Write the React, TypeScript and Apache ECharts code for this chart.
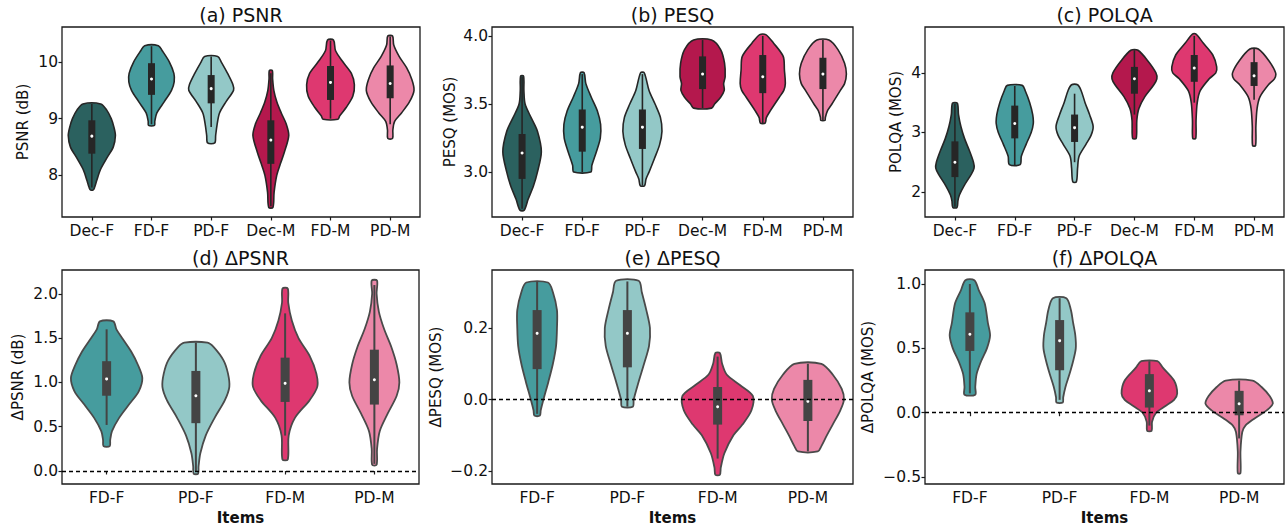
import React, { useEffect, useRef } from "react";
import * as echarts from "echarts";

// ---------- categories ----------
const topCats = ["Dec-F", "FD-F", "PD-F", "Dec-M", "FD-M", "PD-M"];
const bottomCats = ["FD-F", "PD-F", "FD-M", "PD-M"];

// ---------- tick values ----------
const psnrTicks = [8, 9, 10];
const pesqTicks = [3.0, 3.5, 4.0];
const polqaTicks = [2, 3, 4];
const dPsnrTicks = [0, 0.5, 1.0, 1.5, 2.0];
const dPesqTicks = [-0.2, 0, 0.2];
const dPolqaTicks = [-0.5, 0, 0.5, 1.0];

// ---------- violin profiles: [value, relative width] from top to bottom ----------
const psnrViolins = [
  [[9.26, 0.3], [9.15, 0.5], [9.0, 0.65], [8.85, 0.74], [8.7, 0.79], [8.5, 0.72], [8.3, 0.5], [8.1, 0.29], [7.9, 0.16], [7.78, 0.09], [7.74, 0.05]],
  [[10.29, 0.23], [10.2, 0.36], [10.0, 0.6], [9.8, 0.75], [9.65, 0.76], [9.5, 0.67], [9.3, 0.43], [9.1, 0.18], [8.95, 0.11], [8.88, 0.1]],
  [[10.1, 0.22], [10.0, 0.34], [9.8, 0.55], [9.6, 0.73], [9.5, 0.75], [9.3, 0.5], [9.1, 0.28], [8.9, 0.2], [8.7, 0.15], [8.57, 0.12]],
  [[9.85, 0.05], [9.7, 0.06], [9.5, 0.1], [9.3, 0.2], [9.1, 0.35], [8.9, 0.52], [8.7, 0.6], [8.4, 0.45], [8.2, 0.32], [8.0, 0.2], [7.7, 0.11], [7.43, 0.07]],
  [[10.39, 0.1], [10.2, 0.17], [10.0, 0.42], [9.8, 0.7], [9.6, 0.8], [9.4, 0.75], [9.2, 0.53], [9.05, 0.31], [8.99, 0.25]],
  [[10.46, 0.08], [10.3, 0.12], [10.1, 0.3], [9.9, 0.55], [9.7, 0.72], [9.5, 0.8], [9.3, 0.65], [9.1, 0.38], [8.95, 0.15], [8.8, 0.09], [8.65, 0.08]],
];
const pesqViolins = [
  [[3.705, 0.05], [3.6, 0.06], [3.5, 0.1], [3.4, 0.3], [3.3, 0.51], [3.15, 0.64], [3.0, 0.51], [2.9, 0.38], [2.8, 0.2], [2.72, 0.07]],
  [[3.73, 0.06], [3.65, 0.12], [3.55, 0.3], [3.45, 0.5], [3.35, 0.61], [3.25, 0.6], [3.15, 0.47], [3.05, 0.32], [3.0, 0.28]],
  [[3.73, 0.06], [3.6, 0.22], [3.5, 0.42], [3.4, 0.6], [3.3, 0.65], [3.2, 0.57], [3.1, 0.4], [3.0, 0.22], [2.95, 0.12], [2.9, 0.07]],
  [[3.97, 0.3], [3.9, 0.6], [3.8, 0.73], [3.7, 0.75], [3.65, 0.7], [3.6, 0.72], [3.55, 0.6], [3.5, 0.4], [3.47, 0.3]],
  [[4.01, 0.1], [3.95, 0.35], [3.85, 0.68], [3.75, 0.72], [3.65, 0.75], [3.6, 0.7], [3.55, 0.55], [3.45, 0.25], [3.4, 0.12], [3.36, 0.08]],
  [[3.97, 0.2], [3.9, 0.5], [3.8, 0.72], [3.72, 0.78], [3.65, 0.72], [3.6, 0.58], [3.5, 0.3], [3.45, 0.15], [3.4, 0.08], [3.38, 0.07]],
];
const polqaViolins = [
  [[3.49, 0.08], [3.3, 0.12], [3.1, 0.2], [2.9, 0.32], [2.7, 0.48], [2.5, 0.62], [2.4, 0.64], [2.3, 0.55], [2.1, 0.3], [1.95, 0.15], [1.85, 0.1], [1.74, 0.07]],
  [[3.79, 0.25], [3.7, 0.35], [3.5, 0.5], [3.3, 0.6], [3.15, 0.62], [3.0, 0.55], [2.8, 0.38], [2.6, 0.22], [2.46, 0.18]],
  [[3.8, 0.1], [3.7, 0.22], [3.5, 0.35], [3.3, 0.5], [3.1, 0.62], [2.95, 0.55], [2.8, 0.38], [2.6, 0.15], [2.4, 0.1], [2.17, 0.06]],
  [[4.38, 0.12], [4.2, 0.45], [4.0, 0.72], [3.9, 0.75], [3.8, 0.65], [3.6, 0.35], [3.4, 0.15], [3.2, 0.08], [2.9, 0.06]],
  [[4.65, 0.06], [4.5, 0.3], [4.3, 0.62], [4.1, 0.75], [4.0, 0.72], [3.9, 0.5], [3.7, 0.2], [3.5, 0.1], [3.2, 0.06], [2.9, 0.05]],
  [[4.4, 0.14], [4.2, 0.5], [4.0, 0.72], [3.9, 0.68], [3.8, 0.48], [3.6, 0.2], [3.4, 0.1], [3.1, 0.06], [2.78, 0.05]],
];
const dPsnrViolins = [
  [[1.69, 0.15], [1.6, 0.22], [1.5, 0.35], [1.35, 0.55], [1.2, 0.7], [1.05, 0.8], [0.9, 0.72], [0.75, 0.5], [0.6, 0.28], [0.45, 0.12], [0.35, 0.08], [0.28, 0.07]],
  [[1.45, 0.26], [1.4, 0.4], [1.25, 0.62], [1.1, 0.72], [0.95, 0.75], [0.8, 0.65], [0.6, 0.42], [0.4, 0.22], [0.2, 0.1], [0.05, 0.06], [-0.03, 0.05]],
  [[2.06, 0.06], [1.9, 0.07], [1.7, 0.15], [1.5, 0.3], [1.3, 0.55], [1.1, 0.7], [0.95, 0.72], [0.8, 0.55], [0.6, 0.22], [0.4, 0.08], [0.13, 0.06]],
  [[2.15, 0.06], [2.0, 0.05], [1.8, 0.1], [1.6, 0.22], [1.4, 0.38], [1.2, 0.5], [1.0, 0.56], [0.85, 0.5], [0.65, 0.3], [0.45, 0.12], [0.25, 0.06], [0.07, 0.05]],
];
const dPesqViolins = [
  [[0.327, 0.24], [0.3, 0.35], [0.25, 0.44], [0.2, 0.44], [0.15, 0.42], [0.1, 0.35], [0.05, 0.25], [0.0, 0.14], [-0.03, 0.08], [-0.045, 0.06]],
  [[0.332, 0.25], [0.3, 0.32], [0.25, 0.42], [0.2, 0.5], [0.15, 0.48], [0.1, 0.37], [0.05, 0.25], [0.0, 0.14], [-0.02, 0.12]],
  [[0.13, 0.05], [0.1, 0.1], [0.07, 0.2], [0.04, 0.5], [0.01, 0.78], [-0.03, 0.75], [-0.07, 0.55], [-0.1, 0.35], [-0.15, 0.15], [-0.19, 0.07], [-0.21, 0.05]],
  [[0.1, 0.3], [0.07, 0.55], [0.03, 0.75], [0.0, 0.8], [-0.03, 0.72], [-0.07, 0.55], [-0.1, 0.42], [-0.13, 0.3], [-0.145, 0.22]],
];
const dPolqaViolins = [
  [[1.03, 0.1], [0.95, 0.2], [0.85, 0.33], [0.7, 0.4], [0.6, 0.45], [0.5, 0.38], [0.4, 0.25], [0.3, 0.15], [0.2, 0.12], [0.14, 0.12]],
  [[0.89, 0.15], [0.8, 0.25], [0.7, 0.3], [0.6, 0.35], [0.5, 0.36], [0.4, 0.3], [0.3, 0.22], [0.2, 0.13], [0.12, 0.08], [0.08, 0.07]],
  [[0.4, 0.18], [0.35, 0.3], [0.25, 0.55], [0.15, 0.62], [0.1, 0.55], [0.05, 0.35], [0.0, 0.15], [-0.07, 0.06], [-0.14, 0.05]],
  [[0.25, 0.3], [0.2, 0.5], [0.13, 0.68], [0.07, 0.75], [0.02, 0.62], [-0.05, 0.32], [-0.1, 0.14], [-0.15, 0.07], [-0.3, 0.03], [-0.47, 0.03]],
];

// ---------- inner boxes: [whiskerLow, q1, median, q3, whiskerHigh] ----------
const psnrBoxes = [
  [7.78, 8.38, 8.69, 8.97, 9.26], [8.9, 9.42, 9.7, 9.98, 10.28], [8.85, 9.27, 9.53, 9.77, 10.1],
  [7.45, 8.2, 8.62, 8.97, 9.8], [9.0, 9.33, 9.64, 9.93, 10.38], [8.9, 9.36, 9.62, 9.94, 10.45],
];
const pesqBoxes = [
  [2.73, 2.95, 3.14, 3.28, 3.7], [3.0, 3.15, 3.33, 3.46, 3.72], [2.9, 3.17, 3.33, 3.46, 3.72],
  [3.47, 3.61, 3.72, 3.85, 3.97], [3.36, 3.58, 3.7, 3.86, 4.0], [3.38, 3.61, 3.72, 3.84, 3.97],
];
const polqaBoxes = [
  [1.75, 2.25, 2.5, 2.85, 3.48], [2.45, 2.9, 3.15, 3.45, 3.78], [2.5, 2.84, 3.08, 3.3, 3.65],
  [3.3, 3.65, 3.9, 4.1, 4.38], [3.5, 3.85, 4.08, 4.3, 4.62], [3.55, 3.78, 3.95, 4.18, 4.4],
];
const dPsnrBoxes = [
  [0.52, 0.85, 1.04, 1.24, 1.6], [0.0, 0.54, 0.85, 1.13, 1.45], [0.4, 0.78, 0.99, 1.28, 1.78], [0.08, 0.75, 1.03, 1.37, 2.1],
];
const dPesqBoxes = [
  [-0.04, 0.085, 0.185, 0.25, 0.33], [-0.02, 0.09, 0.185, 0.25, 0.33], [-0.165, -0.07, -0.02, 0.035, 0.12], [-0.145, -0.06, -0.005, 0.055, 0.1],
];
const dPolqaBoxes = [
  [0.15, 0.48, 0.61, 0.78, 1.0], [0.1, 0.33, 0.56, 0.72, 0.89], [-0.1, 0.04, 0.17, 0.3, 0.4], [-0.2, -0.02, 0.07, 0.17, 0.25],
];

// ---------- styles ----------
const topColors = ["#2b615f", "#469c9e", "#93c8c7", "#b4184d", "#de3870", "#ec88a9"];
const bottomColors = ["#469c9e", "#93c8c7", "#de3870", "#ec88a9"];
const FONT = "DejaVu Sans";
const TXT = "#111";

const fmt = (dec: number) => (v: number) => (v < 0 ? "\u2212" : "") + Math.abs(v).toFixed(dec);

type Panel = {
  grid: any; cats: string[]; colors: string[]; profiles: number[][][]; boxes: number[][];
  ticks: number[]; min: number; max: number; dec: number; yName: string; nameGap: number;
  title: string; zero: boolean; bottom: boolean;
};

const panels: Panel[] = [
  { grid: { left: 62, top: 27, width: 358, height: 190 }, cats: topCats, colors: topColors, profiles: psnrViolins, boxes: psnrBoxes, ticks: psnrTicks, min: 7.26, max: 10.62, dec: 0, yName: "PSNR (dB)", nameGap: 32, title: "(a) PSNR", zero: false, bottom: false },
  { grid: { left: 492, top: 27, width: 361, height: 190 }, cats: topCats, colors: topColors, profiles: pesqViolins, boxes: pesqBoxes, ticks: pesqTicks, min: 2.67, max: 4.066, dec: 1, yName: "PESQ (MOS)", nameGap: 35, title: "(b) PESQ", zero: false, bottom: false },
  { grid: { left: 925, top: 27, width: 359, height: 190 }, cats: topCats, colors: topColors, profiles: polqaViolins, boxes: polqaBoxes, ticks: polqaTicks, min: 1.58, max: 4.77, dec: 0, yName: "POLQA (MOS)", nameGap: 22, title: "(c) POLQA", zero: false, bottom: false },
  { grid: { left: 62, top: 270, width: 357, height: 214 }, cats: bottomCats, colors: bottomColors, profiles: dPsnrViolins, boxes: dPsnrBoxes, ticks: dPsnrTicks, min: -0.147, max: 2.27, dec: 1, yName: "\u0394PSNR (dB)", nameGap: 37, title: "(d) \u0394PSNR", zero: true, bottom: true },
  { grid: { left: 492, top: 270, width: 361, height: 214 }, cats: bottomCats, colors: bottomColors, profiles: dPesqViolins, boxes: dPesqBoxes, ticks: dPesqTicks, min: -0.236, max: 0.362, dec: 1, yName: "\u0394PESQ (MOS)", nameGap: 49, title: "(e) \u0394PESQ", zero: true, bottom: true },
  { grid: { left: 925, top: 270, width: 359, height: 214 }, cats: bottomCats, colors: bottomColors, profiles: dPolqaViolins, boxes: dPolqaBoxes, ticks: dPolqaTicks, min: -0.554, max: 1.109, dec: 1, yName: "\u0394POLQA (MOS)", nameGap: 50, title: "(f) \u0394POLQA", zero: true, bottom: true },
];

function makeRender(p: Panel) {
  const outline = p.bottom ? "#4a4a4a" : "#262626";
  const boxColor = p.bottom ? "#444444" : "#262626";
  const boxW = p.bottom ? 9 : 7;
  const whiskW = p.bottom ? 2 : 1.6;
  return (params: any, api: any) => {
    const i = params.dataIndex;
    const prof = p.profiles[i];
    const b = p.boxes[i];
    const catW = api.size([1, 0])[0];
    const cx = api.coord([i, b[2]])[0];
    const right = prof.map(([v, w]) => [cx + (w * catW) / 2, api.coord([i, v])[1]]);
    const left = prof.slice().reverse().map(([v, w]) => [cx - (w * catW) / 2, api.coord([i, v])[1]]);
    const yLow = api.coord([i, b[0]])[1];
    const yQ1 = api.coord([i, b[1]])[1];
    const yMed = api.coord([i, b[2]])[1];
    const yQ3 = api.coord([i, b[3]])[1];
    const yHigh = api.coord([i, b[4]])[1];
    return {
      type: "group",
      children: [
        {
          type: "polygon",
          shape: { points: right.concat(left), smooth: 0.3 },
          style: { fill: p.colors[i], stroke: outline, lineWidth: p.bottom ? 1.8 : 1.6 },
        },
        {
          type: "line",
          shape: { x1: cx, y1: yHigh, x2: cx, y2: yLow },
          style: { stroke: boxColor, lineWidth: whiskW },
        },
        {
          type: "rect",
          shape: { x: cx - boxW / 2, y: yQ3, width: boxW, height: yQ1 - yQ3 },
          style: { fill: boxColor },
        },
        {
          type: "circle",
          shape: { cx, cy: yMed, r: 1.5 },
          style: { fill: "#ffffff" },
        },
      ],
    };
  };
}

export default function App() {
  const ref = useRef<HTMLDivElement>(null);
  useEffect(() => {
    if (!ref.current) return;
    const chart = echarts.init(ref.current, null, { renderer: "svg" });
    const option: any = {
      animation: false,
      backgroundColor: "#ffffff",
      grid: panels.map((p) => ({ ...p.grid, show: true, borderColor: "#1a1a1a", borderWidth: 1.3, backgroundColor: "transparent", containLabel: false })),
      xAxis: panels.map((p, k) => ({
        type: "category",
        gridIndex: k,
        data: p.cats,
        boundaryGap: true,
        axisLine: { show: false },
        axisTick: { show: true, alignWithLabel: true, interval: 0, length: 3.5, lineStyle: { color: "#1a1a1a", width: 1.2 } },
        axisLabel: { fontFamily: FONT, fontSize: 15.5, color: TXT, margin: 6, interval: 0 },
        splitLine: { show: false },
        name: p.bottom ? "Items" : "",
        nameLocation: "middle",
        nameGap: 26,
        nameTextStyle: { fontFamily: FONT, fontSize: 15, fontWeight: "bold", color: TXT },
      })),
      yAxis: panels.map((p, k) => ({
        type: "value",
        gridIndex: k,
        min: p.min,
        max: p.max,
        axisLine: { show: false },
        axisTick: { show: true, length: 3.5, lineStyle: { color: "#1a1a1a", width: 1.2 }, customValues: p.ticks },
        axisLabel: { fontFamily: FONT, fontSize: 15.5, color: TXT, margin: 4, customValues: p.ticks, formatter: fmt(p.dec) },
        splitLine: { show: false },
        name: p.yName,
        nameLocation: "middle",
        nameGap: p.nameGap,
        nameTextStyle: { fontFamily: FONT, fontSize: 15, color: TXT },
      })),
      graphic: panels.map((p) => ({
        type: "text",
        x: p.grid.left + p.grid.width / 2,
        y: p.bottom ? 258 : 15,
        style: { text: p.title, font: `19px '${FONT}'`, fill: TXT, align: "center", verticalAlign: "middle" },
      })),
      series: panels.map((p, k) => ({
        type: "custom",
        xAxisIndex: k,
        yAxisIndex: k,
        renderItem: makeRender(p),
        data: p.boxes.map((b, i) => [i, b[0], b[4]]),
        encode: { x: 0, y: [1, 2] },
        clip: false,
        markLine: p.zero
          ? {
              silent: true,
              symbol: "none",
              label: { show: false },
              z: 10,
              lineStyle: { type: [4, 3], color: "#000", width: 1.3 },
              data: [{ yAxis: 0 }],
            }
          : undefined,
      })),
    };
    chart.setOption(option);
    return () => chart.dispose();
  }, []);
  return <div ref={ref} style={{ position: "fixed", left: 0, top: 0, width: 1288, height: 528 }} />;
}
